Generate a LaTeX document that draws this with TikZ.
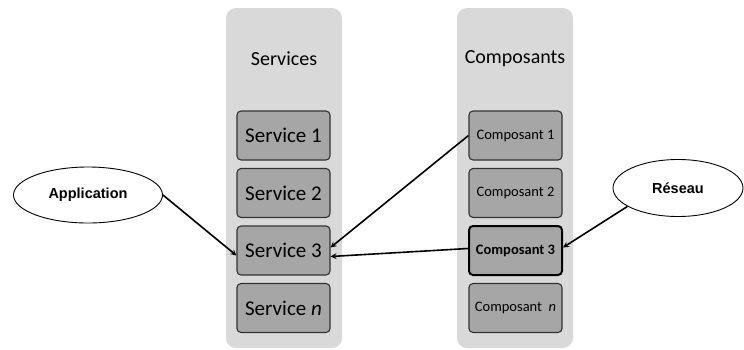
\documentclass[tikz,border=0pt]{standalone}
\usepackage{fontspec}
\setmainfont{Carlito}
\newfontfamily\arialfont{Liberation Sans}
\usepackage{tikz}
\usetikzlibrary{shapes.geometric, arrows}
\definecolor{colbg}{HTML}{D9D9D9}
\definecolor{boxbg}{HTML}{A6A6A6}
\definecolor{boxline}{HTML}{333333}
\tikzstyle{column} = [fill=colbg, rounded corners=10pt, inner sep=0pt,
    minimum width=116pt, minimum height=340pt]
\tikzstyle{header} = [font=\fontsize{20}{24}\selectfont]
\tikzstyle{servbox} = [draw=boxline, line width=1.1pt, fill=boxbg, rectangle, rounded corners=4pt,
    minimum height=49pt, minimum width=93pt, inner sep=0pt,
    font=\fontsize{21}{25}\selectfont]
\tikzstyle{compbox} = [servbox, font=\fontsize{14.5}{17}\selectfont]
\tikzstyle{actor} = [draw, line width=0.9pt, ellipse, fill=white, inner sep=0pt,
    font=\arialfont\bfseries\fontsize{14.5}{17}\selectfont]
\tikzstyle{arrow} = [line width=1.6pt,->,>=stealth]

\begin{document}
\begin{tikzpicture}[x=1pt, y=-1pt, node distance=57.5pt]
            \useasboundingbox (0,0) rectangle (744,349);

            % Columns
            \node (colserv) [column] at (284,178) {};
            \node (colcomp) [column] at (515,178) {};
            \node (hserv) [header] at (284,59) {Services};
            \node (hcomp) [header] at (515,59) {Composants};

            % Blocks
            \node (serv1) [servbox] at (283.5,135.5) {Service 1};
            \node (serv2) [servbox, below of=serv1] {Service 2};
            \node (serv3) [servbox, below of=serv2] {Service 3};
            \node (servn) [servbox, below of=serv3] {Service \textit{n}};
            \node (comp1) [compbox, right of=serv1, xshift=174.5pt] {Composant 1};
            \node (comp2) [compbox, below of=comp1] {Composant 2};
            \node (comp3) [compbox, below of=comp2, line width=2pt, draw=black] {\textbf{Composant 3}};
            \node (compn) [compbox, below of=comp3] {Composant \ \textit{n}};

            % Actors
            \node (app) [actor, minimum width=149pt, minimum height=56pt] at (88,195) {Application};
            \node (res) [actor, minimum width=130pt, minimum height=57pt] at (678,188) {Réseau};

            % Arrows
            \draw [arrow] (app.east) -- ([yshift=-5pt]serv3.west);
            \draw [arrow] (comp1.west) -- ([yshift=3pt]serv3.east);
            \draw [arrow] ([yshift=2pt]comp3.west) -- ([yshift=-6pt]serv3.east);
            \draw [arrow] (res.200) -- ([yshift=3pt]comp3.east);

        \end{tikzpicture}
\end{document}
